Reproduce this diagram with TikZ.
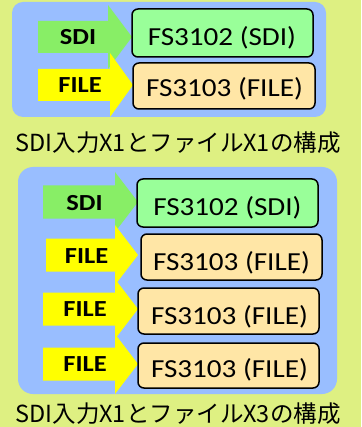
\documentclass[tikz,border=0pt]{standalone}
\usepackage{fontspec}
\setmainfont{Carlito}
\newfontfamily\cjk{Noto Sans CJK JP}
\usepackage{graphicx}
\definecolor{bgc}{RGB}{222,240,130}
\definecolor{panelc}{RGB}{153,190,255}
\definecolor{arrgreen}{RGB}{136,238,102}
\definecolor{arryellow}{RGB}{255,255,0}
\definecolor{boxgreen}{RGB}{153,255,153}
\definecolor{boxorange}{RGB}{255,230,166}
\tikzset{
  panel/.style={fill=panelc, draw=none},
  sdibox/.style={draw=black, line width=1.5pt, fill=boxgreen, rounded corners=6pt},
  filebox/.style={draw=black, line width=1.5pt, fill=boxorange, rounded corners=6pt},
  boxtext/.style={inner sep=0pt, font=\fontsize{26}{30}\selectfont},
  arrtext/.style={inner sep=0pt, font=\fontsize{23}{27}\selectfont\bfseries},
  captext/.style={inner sep=0pt, font=\cjk\fontsize{23.5}{28}\selectfont}
}
% #1 colour, #2 left x, #3 head base x, #4 tip x, #5 centre y, #6 body half, #7 head half
\newcommand\blockarrow[7]{%
  \fill[#1] (#2,{#5-#6}) -- (#3,{#5-#6}) -- (#3,{#5-#7}) -- (#4,#5)
    -- (#3,{#5+#7}) -- (#3,{#5+#6}) -- (#2,{#5+#6}) -- cycle;}
\newcommand\wtext[1]{\scalebox{1.12}[1]{#1}}
\newcommand\btext[1]{\scalebox{1.15}[1]{#1}}
\begin{document}
\begin{tikzpicture}[x=1pt,y=-1pt]
\useasboundingbox (0,0) rectangle (361,427);
\fill[bgc] (0,0) rectangle (361,427);
% ---------- top panel ----------
\fill[panel, rounded corners=11pt] (12,2) rectangle (326,117);
\blockarrow{arrgreen}{38}{108}{132}{37}{16}{32}
\blockarrow{arryellow}{38}{110}{133}{85}{16}{32}
\node[arrtext] (tsdi) at (78,37) {\btext{SDI}};
\node[arrtext] (tfile) at (80,85) {\btext{FILE}};
\draw[sdibox] (132,9) rectangle (313,57);
\draw[filebox] (133,63) rectangle (315,109);
\node[boxtext] (tb1) at (222,38) {\wtext{FS3102 (SDI)}};
\node[boxtext] (tb2) at (224.5,89) {\wtext{FS3103 (FILE)}};
\node[captext] (cap1) at (178,143) {SDI入力X1とファイルX1の構成};
% ---------- bottom panel ----------
\fill[panel, rounded corners=15pt] (18,167) rectangle (337,394);
\blockarrow{arrgreen}{43}{115}{138}{202}{16.5}{30}
\blockarrow{arryellow}{46}{115}{138}{255}{16.5}{30}
\blockarrow{arryellow}{43}{115}{138}{309}{16.5}{30}
\blockarrow{arryellow}{43}{115}{138}{364}{16.5}{30}
\node[arrtext] (bsdi) at (84.5,203) {\btext{SDI}};
\node[arrtext] (bfile1) at (86.5,256) {\btext{FILE}};
\node[arrtext] (bfile2) at (85,309) {\btext{FILE}};
\node[arrtext] (bfile3) at (85,364) {\btext{FILE}};
\draw[sdibox] (137,179) rectangle (318,227);
\draw[filebox] (141,234) rectangle (322,280);
\draw[filebox] (138,288) rectangle (319,334);
\draw[filebox] (138,343) rectangle (319,388);
\node[boxtext] (bb1) at (227.5,208) {\wtext{FS3102 (SDI)}};
\node[boxtext] (bb2) at (231.5,263) {\wtext{FS3103 (FILE)}};
\node[boxtext] (bb3) at (229.5,317) {\wtext{FS3103 (FILE)}};
\node[boxtext] (bb4) at (229.5,370) {\wtext{FS3103 (FILE)}};
\node[captext] (cap2) at (178,414) {SDI入力X1とファイルX3の構成};
\end{tikzpicture}
\end{document}
